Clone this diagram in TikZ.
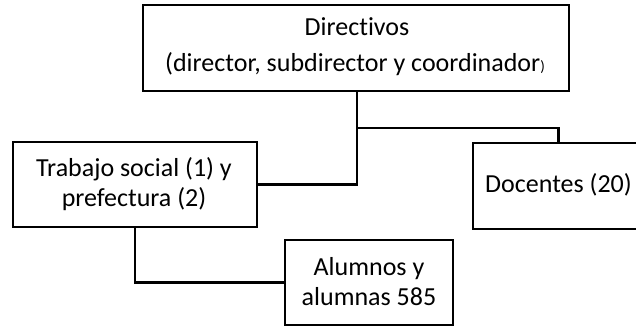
\documentclass[tikz,border=0pt]{standalone}
\usepackage{fontspec}
\setmainfont[Ligatures=CommonOff]{Carlito}
\begin{document}
\begin{tikzpicture}[x=1pt,y=-1pt,
  box/.style={draw=black,line width=1.6pt,inner sep=0pt,fill=white},
  lbl/.style={anchor=base,inner sep=0pt,font=\fontsize{26}{30}\selectfont},
  conn/.style={draw=black,line width=2.5pt}]
\path[use as bounding box] (0,0) rectangle (636,328);
\clip (0,0) rectangle (636,328);
% boxes
\node[box,minimum width=426pt,minimum height=86pt] (dir) at (356,48) {};
\node[box,minimum width=244pt,minimum height=85pt] (trab) at (135,184.5) {};
\node[box,minimum width=171pt,minimum height=86pt] (doc) at (558.5,186) {};
\node[box,minimum width=168pt,minimum height=85pt] (alu) at (369,282.5) {};
% connectors
\coordinate (j) at (357,128);
\draw[conn] (357,91) -- (j);
\draw[conn] (j) -| (doc.north);
\draw[conn] (trab.east) -| (j);
\draw[conn] (trab.south) |- (alu.west);
% texts
\node[lbl] (t1) at (357,36) {Directivos};
\node[lbl] (t2) at (355,72) {(director, subdirector y coordinador{\fontsize{15}{18}\selectfont)}};
\node[lbl] (t3) at (134,177) {Trabajo social (1) y};
\node[lbl] (t4) at (134,207) {prefectura (2)};
\node[lbl] (t5) at (558.5,193) {Docentes (20)};
\node[lbl] (t6) at (369,275) {Alumnos y};
\node[lbl] (t7) at (369,305) {alumnas 585};
\end{tikzpicture}
\end{document}
